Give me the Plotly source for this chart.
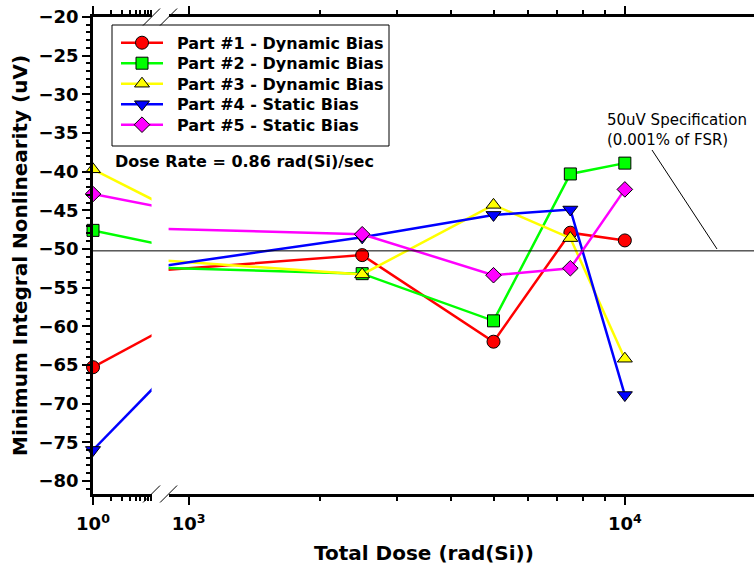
import math
import plotly.graph_objects as go

# ---- data -------------------------------------------------------------
dose = [1, 2500, 5000, 7500, 10000]          # rad(Si)

part1_dyn = [-65.3, -50.8, -62.0, -47.9, -48.9]
part2_dyn = [-47.6, -53.2, -59.3, -40.3, -38.9]
part3_dyn = [-39.7, -53.3, -44.3, -48.6, -64.2]
part4_sta = [-76.0, -48.5, -45.6, -44.9, -68.9]
part5_sta = [-42.9, -48.1, -53.4, -52.5, -42.3]

series_names = [
    "Part #1 - Dynamic Bias",
    "Part #2 - Dynamic Bias",
    "Part #3 - Dynamic Bias",
    "Part #4 - Static Bias",
    "Part #5 - Static Bias",
]
series_values = [part1_dyn, part2_dyn, part3_dyn, part4_sta, part5_sta]
series_colors = ["#ff0000", "#00ff00", "#ffff00", "#0000ff", "#ff00ff"]
series_symbols = ["circle", "square", "triangle-up", "triangle-down", "diamond"]
series_sizes = [13, 12, 13, 13, 12]

spec_level = -50.25
x_tick_vals_lo = [1]
x_tick_text_lo = ["10<sup>0</sup>"]
x_tick_vals_hi = [1000, 10000]
x_tick_text_hi = ["10<sup>3</sup>", "10<sup>4</sup>"]

# ---- layout geometry -----------------------------------------------------
W, H = 754, 574
ML, MR, MT, MB = 93, 0, 17, 80
PW, PH = W - ML - MR, H - MT - MB

LO_RANGE = [0.0, 0.96]            # log10 range of the left (broken) segment
LO_DECADE = 61.0                  # px per decade, left segment
HI_RANGE = [math.log10(900), 4.296]
HI_DECADE = 436.3                 # px per decade, right segment

lo_end = (LO_RANGE[1] - LO_RANGE[0]) * LO_DECADE / PW
hi_start = 1 - (HI_RANGE[1] - HI_RANGE[0]) * HI_DECADE / PW

# legend box (pixel positions)
LEG_BOX = (112, 25, 389, 146)
LEG_ROW0, LEG_ROW_STEP = 42.7, 20.5
LEG_LINE_X = (121, 163)
LEG_TEXT_X = 175


def px_x(px):
    return (px - ML) / PW


def px_y(py):
    return (H - MB - py) / PH


BOLD = "DejaVu Sans"
fig = go.Figure()

for name, vals, col, sym, size in zip(series_names, series_values,
                                      series_colors, series_symbols, series_sizes):
    marker = dict(symbol=sym, size=size, color=col,
                  line=dict(color="black", width=1))
    # left segment: line toward the next dose point, clipped by the axis break
    fig.add_trace(go.Scatter(x=dose[:2], y=vals[:2], mode="lines",
                             line=dict(color=col, width=2.5),
                             xaxis="x", yaxis="y", showlegend=False,
                             hoverinfo="skip"))
    fig.add_trace(go.Scatter(x=dose[:1], y=vals[:1], mode="markers",
                             marker=marker, cliponaxis=False, name=name,
                             xaxis="x", yaxis="y", showlegend=False))
    # right segment
    fig.add_trace(go.Scatter(x=dose, y=vals, mode="lines+markers", name=name,
                             line=dict(color=col, width=2.5), marker=marker,
                             xaxis="x2", yaxis="y", showlegend=False))

# legend samples on a pixel-space overlay subplot
for i, (name, col, sym, size) in enumerate(zip(series_names, series_colors,
                                                series_symbols, series_sizes)):
    ry = LEG_ROW0 + i * LEG_ROW_STEP
    fig.add_trace(go.Scatter(x=list(LEG_LINE_X), y=[ry, ry], mode="lines",
                             line=dict(color=col, width=2.5),
                             xaxis="x3", yaxis="y3", showlegend=False,
                             hoverinfo="skip"))
    fig.add_trace(go.Scatter(x=[sum(LEG_LINE_X) / 2], y=[ry], mode="markers",
                             marker=dict(symbol=sym, size=size, color=col,
                                         line=dict(color="black", width=1)),
                             cliponaxis=False, xaxis="x3", yaxis="y3",
                             showlegend=False, hoverinfo="skip"))
    fig.add_annotation(text=name, xref="paper", yref="paper",
                       x=px_x(LEG_TEXT_X), y=px_y(ry + 0.5),
                       xanchor="left", yanchor="middle", showarrow=False,
                       font=dict(family=BOLD, size=16, color="black",
                                 weight="bold"))

axis_common = dict(
    type="log", showline=True, linecolor="black", linewidth=2.5,
    ticks="outside", ticklen=8, tickwidth=1.5, tickcolor="black",
    mirror="ticks", showgrid=False, zeroline=False, ticklabelstandoff=4,
    tickfont=dict(family=BOLD, size=18, color="black", weight="bold"),
)

fig.update_layout(
    width=W, height=H,
    margin=dict(l=ML, r=MR, t=MT, b=MB),
    paper_bgcolor="white", plot_bgcolor="rgba(0,0,0,0)",
    showlegend=False,
    xaxis=dict(axis_common, domain=[0, lo_end], range=LO_RANGE, anchor="y",
               tickvals=x_tick_vals_lo, ticktext=x_tick_text_lo,
               minor=dict(tickvals=list(range(2, 10)), ticklen=4,
                          tickwidth=1.5, tickcolor="black", ticks="outside")),
    xaxis2=dict(axis_common, domain=[hi_start, 1], range=HI_RANGE, anchor="y",
                tickvals=x_tick_vals_hi, ticktext=x_tick_text_hi,
                minor=dict(tickvals=[k * 1000 for k in range(2, 10)], ticklen=4,
                           tickwidth=1.5, tickcolor="black", ticks="outside")),
    xaxis3=dict(domain=[0, 1], range=[ML, W], anchor="y3", visible=False,
                fixedrange=True),
    yaxis3=dict(domain=[0, 1], range=[H - MB, MT], anchor="x3", visible=False,
                fixedrange=True),
    yaxis=dict(range=[-81.7, -20], dtick=5, tick0=-20,
               showline=True, linecolor="black", linewidth=2.5,
               ticks="outside", ticklen=8, tickwidth=1.5, tickcolor="black",
               minor=dict(dtick=1, ticklen=4, tickwidth=1.5,
                          tickcolor="black", ticks="outside"),
               showgrid=False, zeroline=False,
               tickfont=dict(family=BOLD, size=18, color="black", weight="bold"),
               title=dict(text="Minimum Integral Nonlinearity (uV)", standoff=6,
                          font=dict(family=BOLD, size=20, color="black",
                                    weight="bold"))),
)

# legend frame
shapes = [dict(type="rect", xref="paper", yref="paper", layer="below",
               x0=px_x(LEG_BOX[0]), y0=px_y(LEG_BOX[3]),
               x1=px_x(LEG_BOX[2]), y1=px_y(LEG_BOX[1]),
               fillcolor="white", line=dict(color="black", width=1))]
# specification level across the whole plot
shapes.append(dict(type="line", xref="paper", yref="y", x0=0, x1=1,
                   y0=spec_level, y1=spec_level,
                   line=dict(color="black", width=1)))
# leader from the specification label to the level line
shapes.append(dict(type="line", xref="paper", yref="paper",
                   x0=px_x(652), y0=px_y(150), x1=px_x(717), y1=px_y(249),
                   line=dict(color="black", width=1)))
# axis-break marks on the bottom and top axes
for cx in (ML + lo_end * PW, ML + hi_start * PW):
    for cy in (H - MB, MT):
        shapes.append(dict(type="line", xref="paper", yref="paper",
                           x0=px_x(cx - 8.5), y0=px_y(cy + 8.5),
                           x1=px_x(cx + 8.5), y1=px_y(cy - 8.5),
                           line=dict(color="black", width=1)))
fig.update_layout(shapes=shapes)

fig.add_annotation(text="Dose Rate = 0.86 rad(Si)/sec", xref="paper", yref="paper",
                   x=px_x(113), y=px_y(162), xanchor="left", yanchor="middle",
                   showarrow=False,
                   font=dict(family=BOLD, size=16, color="black", weight="bold"))
fig.add_annotation(text="50uV Specification<br>(0.001% of FSR)",
                   xref="paper", yref="paper", x=px_x(605), y=px_y(130),
                   xanchor="left", yanchor="middle", align="left",
                   showarrow=False,
                   font=dict(family="DejaVu Sans", size=15, color="black"))
fig.add_annotation(text="Total Dose (rad(Si))", xref="paper", yref="paper",
                   x=0.5, y=px_y(553), xanchor="center", yanchor="middle",
                   showarrow=False,
                   font=dict(family=BOLD, size=20, color="black", weight="bold"))

fig.write_html("out.html")
